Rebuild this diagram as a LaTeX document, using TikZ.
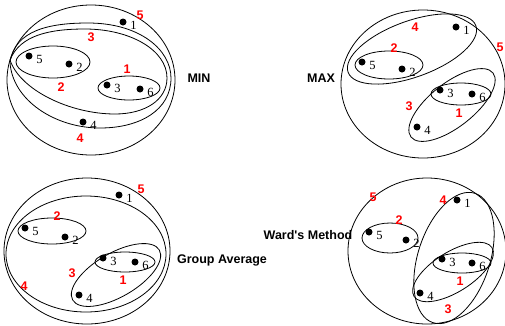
\documentclass[tikz,border=0pt]{standalone}
\usepackage{fontspec}
\setmainfont{Liberation Serif}
\newfontfamily\arialf{Liberation Sans}
\newcommand\pnt[4]{\node[dot] (#1) at (#2,#3) {}; \node[num,anchor=west] (#1l) at ([xshift=3.5pt,yshift=-3.5pt]#1.east) {#4};}
\begin{document}
\begin{tikzpicture}[x=1pt,y=-1pt,
 dot/.style={circle,fill=black,inner sep=0pt,minimum size=7pt},
 num/.style={font=\fontsize{12.5}{12.5}\selectfont,inner sep=0pt},
 ml/.style={text=red,font=\arialf\bfseries\fontsize{12.5}{12.5}\selectfont,inner sep=0pt},
 ttl/.style={font=\arialf\bfseries\fontsize{12.5}{12.5}\selectfont,inner sep=0pt},
 set/.style={line width=0.8pt}]
\useasboundingbox (0,0) rectangle (505,325);

% ---------- MIN ----------
\draw[set] (91,80) ellipse [x radius=84pt, y radius=75pt];
\draw[set] (10,62) .. controls (15,30) and (50,23) .. (88,23) .. controls (140,23) and (171,50) .. (171,78) .. controls (171,110) and (140,128) .. (100,128) .. controls (55,128) and (12,100) .. (10,62) -- cycle;
\draw[set] (10,60) .. controls (20,35) and (50,29) .. (85,29) .. controls (130,29) and (167,50) .. (167,78) .. controls (167,100) and (145,114) .. (115,114) .. controls (70,114) and (20,90) .. (10,60) -- cycle;
\draw[set] (53,62) ellipse [x radius=37pt, y radius=16pt];
\draw[set] (129,88) ellipse [x radius=31pt, y radius=12pt];
\pnt{a1}{123}{22}{1}
\pnt{a5}{29}{56}{5}
\pnt{a2}{69}{64}{2}
\pnt{a3}{107}{85}{3}
\pnt{a6}{140}{89}{6}
\pnt{a4}{83}{122}{4}
\node[ml] (ar5) at (140,15) {5};
\node[ml] (ar3) at (91,37) {3};
\node[ml] (ar2) at (61,87) {2};
\node[ml] (ar1) at (127,69) {1};
\node[ml] (ar4) at (80,138) {4};
\node[ttl] (tmin) at (199,78) {MIN};

% ---------- MAX ----------
\draw[set] (423,84) ellipse [x radius=82pt, y radius=74pt];
\draw[set, rotate around={20:(412,49)}] (412,49) ellipse [x radius=68pt, y radius=28pt];
\draw[set] (389,65) ellipse [x radius=34pt, y radius=14pt];
\draw[set, rotate around={38:(452,105)}] (452,105) ellipse [x radius=52pt, y radius=22pt];
\draw[set] (461,94) ellipse [x radius=30pt, y radius=11pt];
\pnt{b1}{456}{27}{1}
\pnt{b5}{362}{62}{5}
\pnt{b2}{402}{69}{2}
\pnt{b3}{440}{90}{3}
\pnt{b6}{472}{94}{6}
\pnt{b4}{417}{127}{4}
\node[ml] (br4) at (415,27) {4};
\node[ml] (br2) at (394,48) {2};
\node[ml] (br5) at (500,47) {5};
\node[ml] (br3) at (409,106) {3};
\node[ml] (br1) at (459,113) {1};
\node[ttl] (tmax) at (321,78) {MAX};

% ---------- Group Average ----------
\draw[set] (87,251) ellipse [x radius=83pt, y radius=73pt];
\draw[set] (86,254) ellipse [x radius=80pt, y radius=58pt];
\draw[set] (52,231) ellipse [x radius=34pt, y radius=13pt];
\draw[set, rotate around={30:(116,275)}] (116,275) ellipse [x radius=50pt, y radius=22pt];
\draw[set] (125,262) ellipse [x radius=30pt, y radius=10pt];
\pnt{c1}{119}{195}{1}
\pnt{c5}{25}{228}{5}
\pnt{c2}{65}{237}{2}
\pnt{c3}{103}{258}{3}
\pnt{c6}{135}{262}{6}
\pnt{c4}{79}{295}{4}
\node[ml] (cr5) at (141,189) {5};
\node[ml] (cr2) at (57,216) {2};
\node[ml] (cr3) at (72,273) {3};
\node[ml] (cr1) at (123,280) {1};
\node[ml] (cr4) at (24,286) {4};
\node[ttl] (tga) at (222,260) {Group Average};

% ---------- Ward's Method ----------
\draw[set] (427,251) ellipse [x radius=79pt, y radius=73pt];
\draw[set, rotate around={72:(454,258)}] (454,258) ellipse [x radius=68pt, y radius=36pt];
\draw[set, rotate around={32:(453,272)}] (453,272) ellipse [x radius=46pt, y radius=20pt];
\draw[set] (462,263) ellipse [x radius=29pt, y radius=10pt];
\draw[set] (390,238) ellipse [x radius=28pt, y radius=15pt];
\pnt{d1}{457}{200}{1}
\pnt{d5}{369}{232}{5}
\pnt{d2}{406}{240}{2}
\pnt{d3}{442}{259}{3}
\pnt{d6}{472}{263}{6}
\pnt{d4}{420}{293}{4}
\node[ml] (dr5) at (373,197) {5};
\node[ml] (dr2) at (399,220) {2};
\node[ml] (dr4) at (443,200) {4};
\node[ml] (dr1) at (460,281) {1};
\node[ml] (dr3) at (448,309) {3};
\node[ttl] (tward) at (308,235) {Ward's Method};
\end{tikzpicture}
\end{document}
